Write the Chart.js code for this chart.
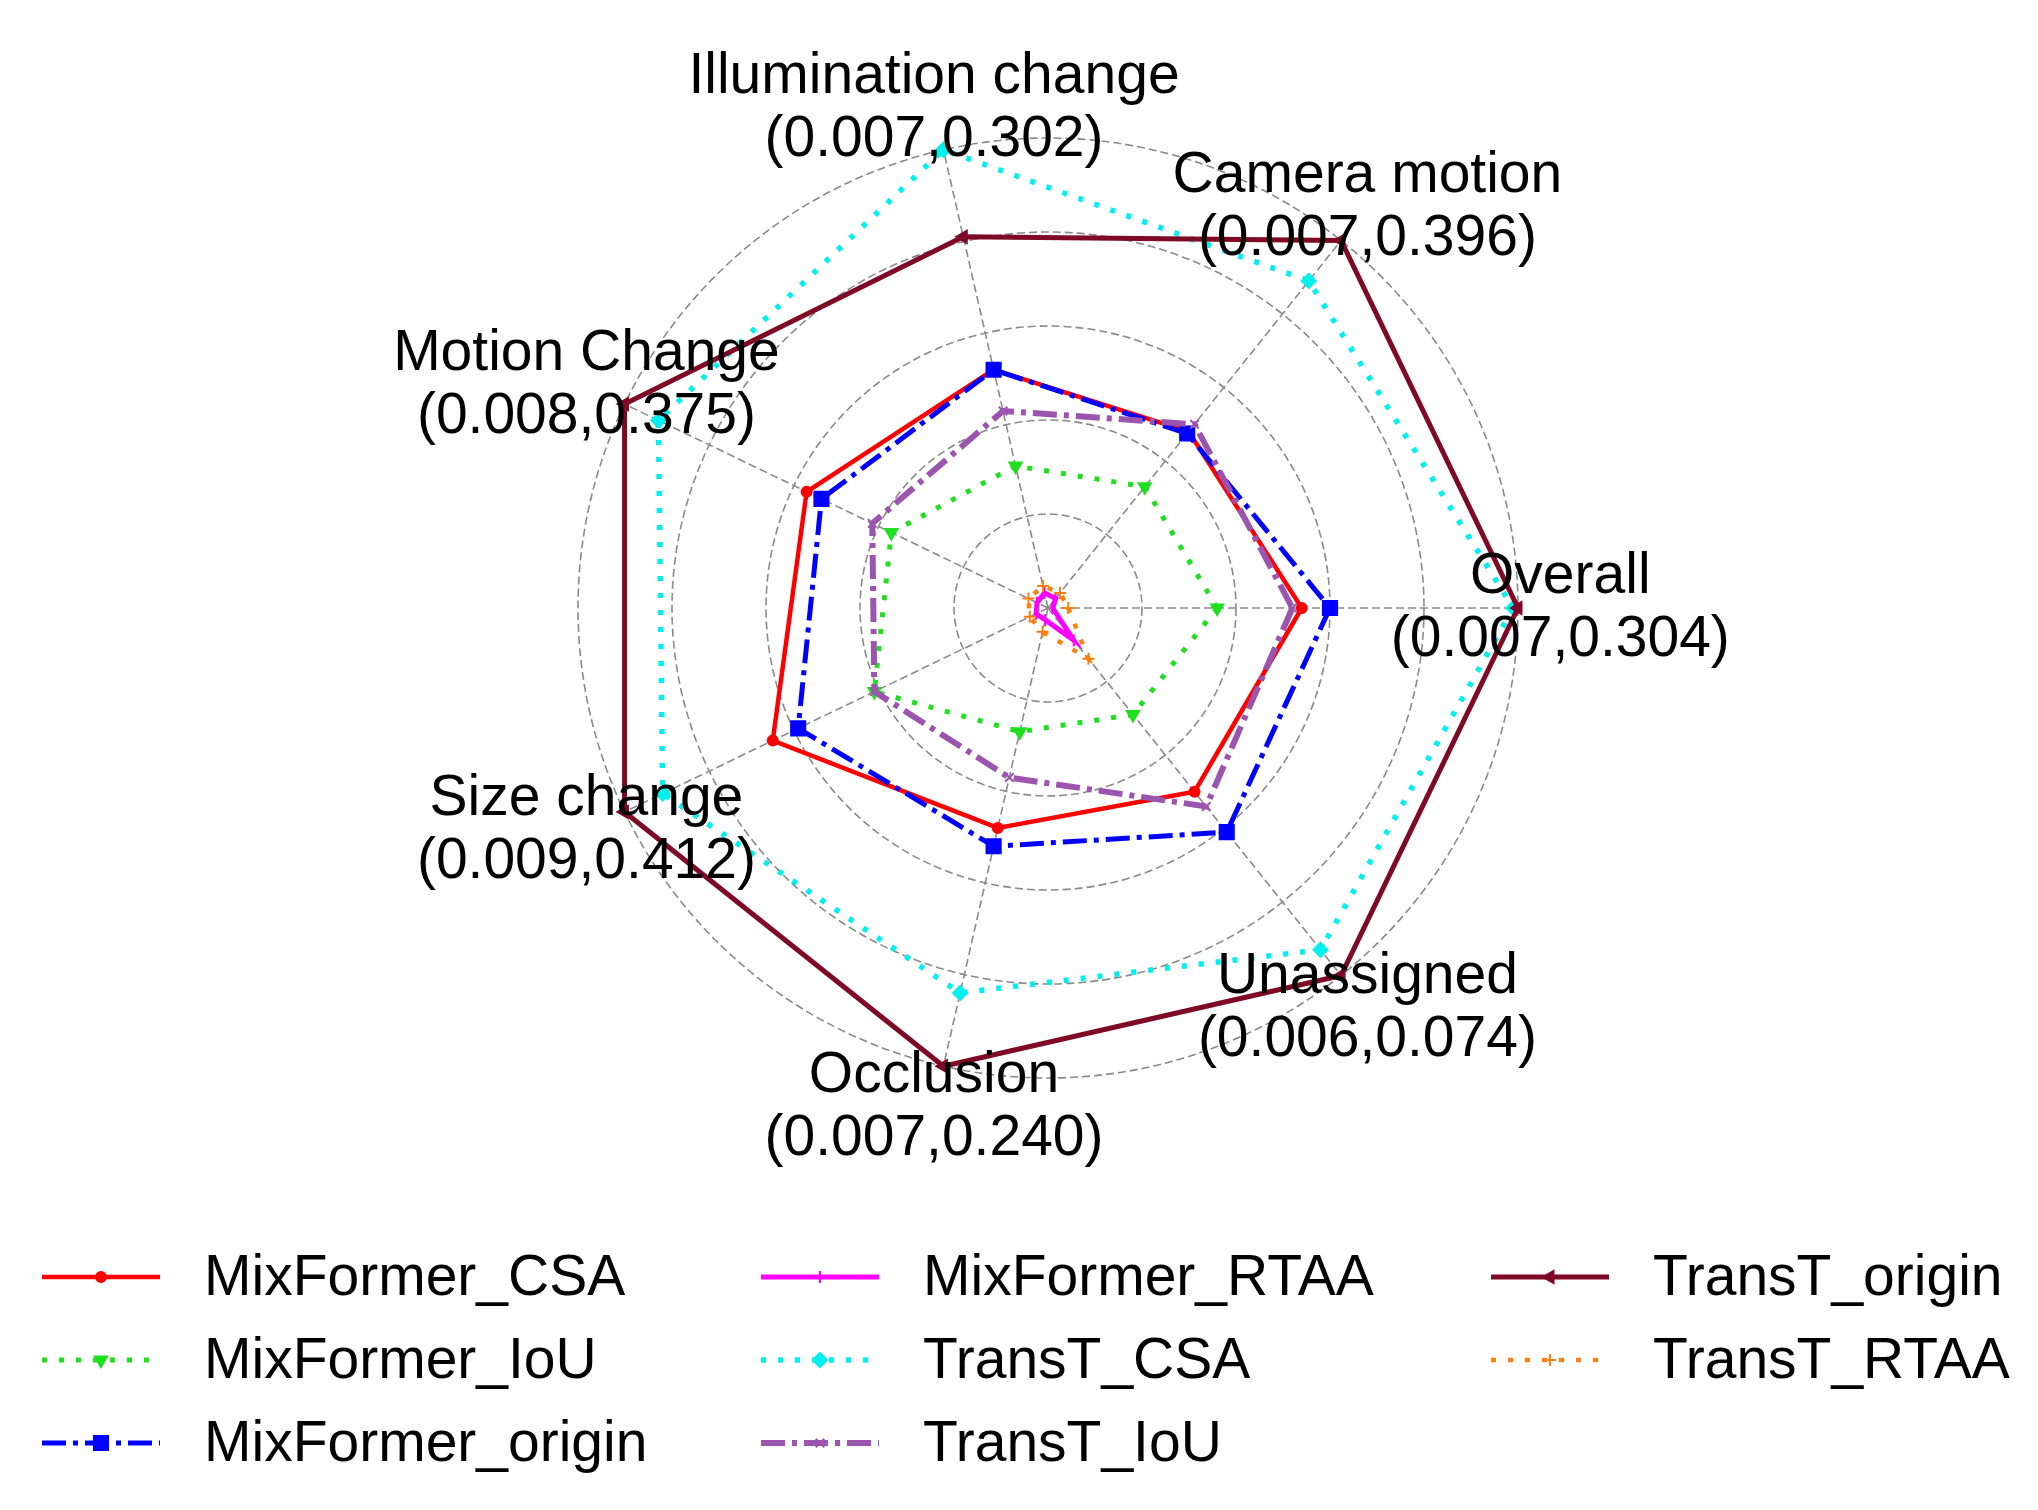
<!DOCTYPE html>
<html>
<head>
<meta charset="utf-8">
<title>Radar</title>
<script src="https://cdn.jsdelivr.net/npm/chart.js@4.4.1/dist/chart.umd.min.js"></script>
<style>
  html, body { margin: 0; padding: 0; background: #ffffff; }
  #wrap { width: 2038px; height: 1510px; }
</style>
</head>
<body>
<div id="wrap"><canvas id="radarChart" width="2038" height="1510"></canvas></div>
<script>
// axes, listed clockwise starting from the right-hand spoke
var axisNames = ["Overall", "Unassigned", "Occlusion", "Size change", "Motion Change", "Illumination change", "Camera motion"];
var axisMin = ["0.007", "0.006", "0.007", "0.009", "0.008", "0.007", "0.007"];
var axisMax = ["0.304", "0.074", "0.240", "0.412", "0.375", "0.302", "0.396"];

var seriesNames = ["MixFormer_CSA", "MixFormer_IoU", "MixFormer_origin", "MixFormer_RTAA",
                   "TransT_CSA", "TransT_IoU", "TransT_origin", "TransT_RTAA"];

// normalised scores, same axis order as axisNames
var mixFormerCSA = [0.54, 0.50, 0.48, 0.65, 0.57, 0.52, 0.48];
var mixFormerIoU = [0.36, 0.29, 0.27, 0.41, 0.37, 0.31, 0.33];
var mixFormerOrigin = [0.60, 0.61, 0.52, 0.59, 0.535, 0.52, 0.475];
var mixFormerRTAA = [0.01, 0.088, 0.026, 0.028, 0.026, 0.033, 0.026];
var transTCSA = [0.99, 0.93, 0.84, 0.91, 0.92, 1.0, 0.89];
var transTIoU = [0.52, 0.54, 0.37, 0.41, 0.415, 0.43, 0.50];
var transTOrigin = [1.0, 1.0, 1.0, 1.0, 1.0, 0.81, 1.0];
var transTRTAA = [0.043, 0.138, 0.052, 0.043, 0.046, 0.048, 0.041];

var seriesValues = [mixFormerCSA, mixFormerIoU, mixFormerOrigin, mixFormerRTAA,
                    transTCSA, transTIoU, transTOrigin, transTRTAA];

var dotted = [5, 12];
var dashDot = [24, 7, 5, 7];
var looks = [
  { color: "#ff0000", width: 4.5, dash: [], point: "circle", radius: 5, rot: 0 },
  { color: "#1ee01e", width: 5, dash: dotted, point: "triangle", radius: 7, rot: 180 },
  { color: "#0000ff", width: 5, dash: dashDot, point: "rect", radius: 10, rot: 0 },
  { color: "#ff00ff", width: 5, dash: [], point: "line", radius: 6, rot: 90 },
  { color: "#00f0f0", width: 5.5, dash: dotted, point: "rectRot", radius: 7, rot: 0 },
  { color: "#9b55ae", width: 6, dash: dashDot, point: "crossRot", radius: 6, rot: 0 },
  { color: "#7e0a25", width: 5, dash: [], point: "triangle", radius: 7, rot: 270 },
  { color: "#ff7f0e", width: 4.5, dash: dotted, point: "cross", radius: 6, rot: 0 }
];

var datasets = seriesNames.map(function (name, i) {
  var s = looks[i];
  return {
    label: name,
    data: seriesValues[i],
    fill: false,
    borderColor: s.color,
    backgroundColor: s.color,
    borderWidth: s.width,
    borderDash: s.dash,
    pointStyle: s.point,
    pointRotation: s.rot,
    pointRadius: s.radius,
    pointBackgroundColor: s.color,
    pointBorderColor: s.color,
    pointBorderWidth: 2,
    order: seriesNames.length - i
  };
});

var labelFont = "57px 'Liberation Sans', Arial, sans-serif";

// two-line axis labels, matplotlib style, sitting over the outer ring
var axisLabels = {
  id: "axisLabels",
  afterDatasetsDraw: function (chart) {
    var scale = chart.scales.r;
    var ctx = chart.ctx;
    ctx.save();
    ctx.font = labelFont;
    ctx.fillStyle = "#000";
    ctx.textAlign = "center";
    ctx.textBaseline = "middle";
    axisNames.forEach(function (name, i) {
      var p = scale.getPointPosition(i, scale.drawingArea * 1.09);
      ctx.fillText(name, p.x, p.y - 31);
      ctx.fillText("(" + axisMin[i] + "," + axisMax[i] + ")", p.x, p.y + 32);
    });
    ctx.restore();
  }
};

// legend in three columns, filled column by column
var columnLegend = {
  id: "columnLegend",
  afterDraw: function (chart) {
    var ctx = chart.ctx;
    var colX = [42, 761, 1491];
    var rowY = [1277, 1360, 1443];
    ctx.save();
    chart.data.datasets.forEach(function (ds, i) {
      var x = colX[Math.floor(i / 3)];
      var y = rowY[i % 3];
      ctx.strokeStyle = ds.borderColor;
      ctx.lineWidth = ds.borderWidth;
      ctx.setLineDash(ds.borderDash);
      ctx.beginPath();
      ctx.moveTo(x, y);
      ctx.lineTo(x + 118, y);
      ctx.stroke();
      ctx.setLineDash([]);
      ctx.fillStyle = ds.pointBackgroundColor;
      ctx.strokeStyle = ds.pointBorderColor;
      ctx.lineWidth = ds.pointBorderWidth;
      Chart.helpers.drawPoint(ctx, {
        pointStyle: ds.pointStyle,
        rotation: ds.pointRotation,
        radius: ds.pointRadius,
        borderWidth: ds.pointBorderWidth
      }, x + 59, y);
      ctx.font = labelFont;
      ctx.fillStyle = "#000";
      ctx.textAlign = "left";
      ctx.textBaseline = "middle";
      ctx.fillText(ds.label, x + 162, y + 2);
    });
    ctx.restore();
  }
};

new Chart(document.getElementById("radarChart"), {
  type: "radar",
  data: {
    labels: axisNames,
    datasets: datasets
  },
  options: {
    responsive: false,
    animation: false,
    devicePixelRatio: 1,
    layout: {
      padding: { left: 578, right: 520, top: 138, bottom: 432 }
    },
    elements: {
      line: { tension: 0 }
    },
    plugins: {
      legend: { display: false },
      tooltip: { enabled: false }
    },
    scales: {
      r: {
        min: 0,
        max: 1,
        startAngle: 90,
        ticks: { display: false, stepSize: 0.2 },
        grid: { circular: true, color: "#8a8a8a", lineWidth: 1.6 },
        border: { dash: [8, 4] },
        angleLines: { color: "#8a8a8a", lineWidth: 1.6, borderDash: [8, 4] },
        pointLabels: { display: false }
      }
    }
  },
  plugins: [axisLabels, columnLegend]
});
</script>
</body>
</html>
